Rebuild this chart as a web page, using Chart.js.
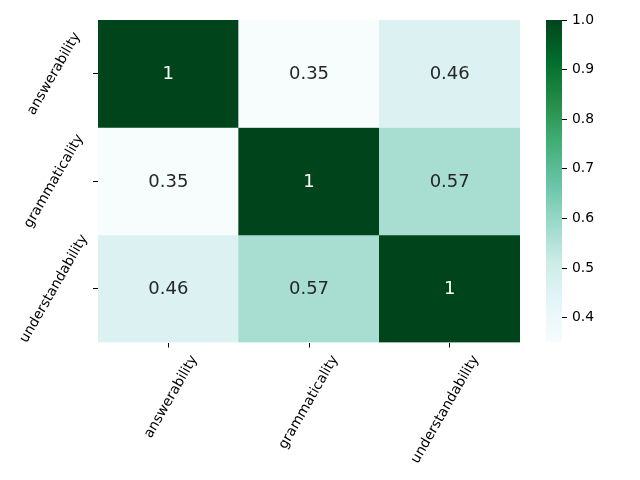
<!DOCTYPE html>
<html>
<head>
<meta charset="utf-8">
<script src="https://cdn.jsdelivr.net/npm/chart.js@4/dist/chart.umd.min.js"></script>
<style>
  html, body { margin: 0; padding: 0; background: #ffffff; }
  #wrap { position: relative; width: 640px; height: 480px; }
  canvas { position: absolute; left: 0; top: 0; }
</style>
</head>
<body>
<div id="wrap">
  <canvas id="main" width="640" height="480"></canvas>
  <canvas id="cbar" width="640" height="480"></canvas>
</div>
<script>
// ---- data ----
const rowLabels = ['answerability', 'grammaticality', 'understandability'];
const colLabels = ['answerability', 'grammaticality', 'understandability'];
const rowAnswerability = [1, 0.35, 0.46];
const rowGrammaticality = [0.35, 1, 0.57];
const rowUnderstandability = [0.46, 0.57, 1];
const colorbarTicks = [0.4, 0.5, 0.6, 0.7, 0.8, 0.9, 1.0];

const rows = [rowAnswerability, rowGrammaticality, rowUnderstandability];
const allVals = rows.flat();
const vmin = Math.min(...allVals);
const vmax = Math.max(...allVals);

// BuGn colormap stops
const BuGn = ['#f7fcfd', '#e5f5f9', '#ccece6', '#99d8c9', '#66c2a4', '#41ae76', '#238b45', '#006d2c', '#00441b'];
function hexToRgb(h) {
  return [parseInt(h.slice(1, 3), 16), parseInt(h.slice(3, 5), 16), parseInt(h.slice(5, 7), 16)];
}
const BuGnRgb = BuGn.map(hexToRgb);
function cmap(t) {
  t = Math.max(0, Math.min(1, t));
  const n = BuGnRgb.length - 1;
  const pos = t * n;
  const i = Math.min(Math.floor(pos), n - 1);
  const f = pos - i;
  const a = BuGnRgb[i], b = BuGnRgb[i + 1];
  return [0, 1, 2].map(k => Math.round(a[k] + (b[k] - a[k]) * f));
}
function colorFor(v) {
  const c = cmap((v - vmin) / (vmax - vmin));
  return 'rgb(' + c.join(',') + ')';
}
function textColorFor(v) {
  const c = cmap((v - vmin) / (vmax - vmin)).map(x => {
    x = x / 255;
    return x <= 0.03928 ? x / 12.92 : Math.pow((x + 0.055) / 1.055, 2.4);
  });
  const lum = 0.2126 * c[0] + 0.7152 * c[1] + 0.0722 * c[2];
  return lum > 0.408 ? '#262626' : '#ffffff';
}
function fmt(v) {
  return String(Number(v.toPrecision(2)));
}

const tickFont = { family: 'DejaVu Sans', size: 13.9 };

const datasets = rows.map((vals, r) => ({
  label: rowLabels[r],
  data: colLabels.map(() => [r, r + 1]),
  backgroundColor: vals.map(colorFor),
  borderWidth: 0,
  borderSkipped: false,
  grouped: false,
  barPercentage: 1,
  categoryPercentage: 1
}));

const annotatePlugin = {
  id: 'annotate',
  afterDatasetsDraw(chart) {
    const { ctx, scales } = chart;
    ctx.save();
    ctx.font = '18px "DejaVu Sans"';
    ctx.textAlign = 'center';
    ctx.textBaseline = 'middle';
    rows.forEach((vals, r) => {
      vals.forEach((v, c) => {
        const x = scales.x.getPixelForValue(c);
        const y = scales.y.getPixelForValue(r + 0.5);
        ctx.fillStyle = textColorFor(v);
        ctx.fillText(fmt(v), x, y + 1);
      });
    });
    ctx.restore();
  }
};

new Chart(document.getElementById('main'), {
  type: 'bar',
  data: { labels: colLabels, datasets },
  options: {
    responsive: false,
    animation: false,
    devicePixelRatio: 1,
    layout: { padding: { left: 0, top: 20, right: 120, bottom: 0 } },
    plugins: { legend: { display: false }, tooltip: { enabled: false } },
    scales: {
      x: {
        type: 'category',
        afterFit: s => { s.height = 137.5; },
        grid: { offset: false, drawOnChartArea: false, drawTicks: true, tickLength: 5, color: '#000', lineWidth: 1 },
        border: { display: false },
        ticks: { minRotation: 60, maxRotation: 60, autoSkip: false, padding: 5, labelOffset: 26, font: tickFont, color: '#000' }
      },
      y: {
        type: 'linear',
        min: 0,
        max: 3,
        reverse: true,
        afterBuildTicks: s => { s.ticks = rowLabels.map((_, i) => ({ value: i + 0.5 })); },
        afterFit: s => { s.width = 98; },
        grid: { drawOnChartArea: false, drawTicks: true, tickLength: 5, color: '#000', lineWidth: 1 },
        border: { display: false },
        ticks: {
          callback: v => rowLabels[Math.floor(v)],
          minRotation: 60, maxRotation: 60,
          crossAlign: 'center',
          padding: -22,
          font: tickFont, color: '#000'
        }
      }
    }
  },
  plugins: [annotatePlugin]
});

function cbGradient(chart) {
  const area = chart.chartArea;
  if (!area) return BuGn[0];
  const g = chart.ctx.createLinearGradient(0, area.bottom, 0, area.top);
  BuGn.forEach((c, i) => g.addColorStop(i / (BuGn.length - 1), c));
  return g;
}

new Chart(document.getElementById('cbar'), {
  type: 'bar',
  data: {
    labels: [''],
    datasets: [{
      data: [[vmin, vmax]],
      backgroundColor: ctx => cbGradient(ctx.chart),
      borderWidth: 0,
      borderSkipped: false,
      barPercentage: 1,
      categoryPercentage: 1
    }]
  },
  options: {
    responsive: false,
    animation: false,
    devicePixelRatio: 1,
    layout: { padding: { left: 546, top: 20, right: 0, bottom: 137.5 } },
    plugins: { legend: { display: false }, tooltip: { enabled: false } },
    scales: {
      x: { display: false },
      y: {
        position: 'right',
        min: vmin,
        max: vmax,
        afterBuildTicks: s => { s.ticks = colorbarTicks.map(v => ({ value: v })); },
        afterFit: s => { s.width = 78; },
        grid: { drawOnChartArea: false, drawTicks: true, tickLength: 5, color: '#000', lineWidth: 1 },
        border: { display: false },
        ticks: { callback: v => v.toFixed(1), padding: 5, font: tickFont, color: '#000' }
      }
    }
  }
});
</script>
</body>
</html>
